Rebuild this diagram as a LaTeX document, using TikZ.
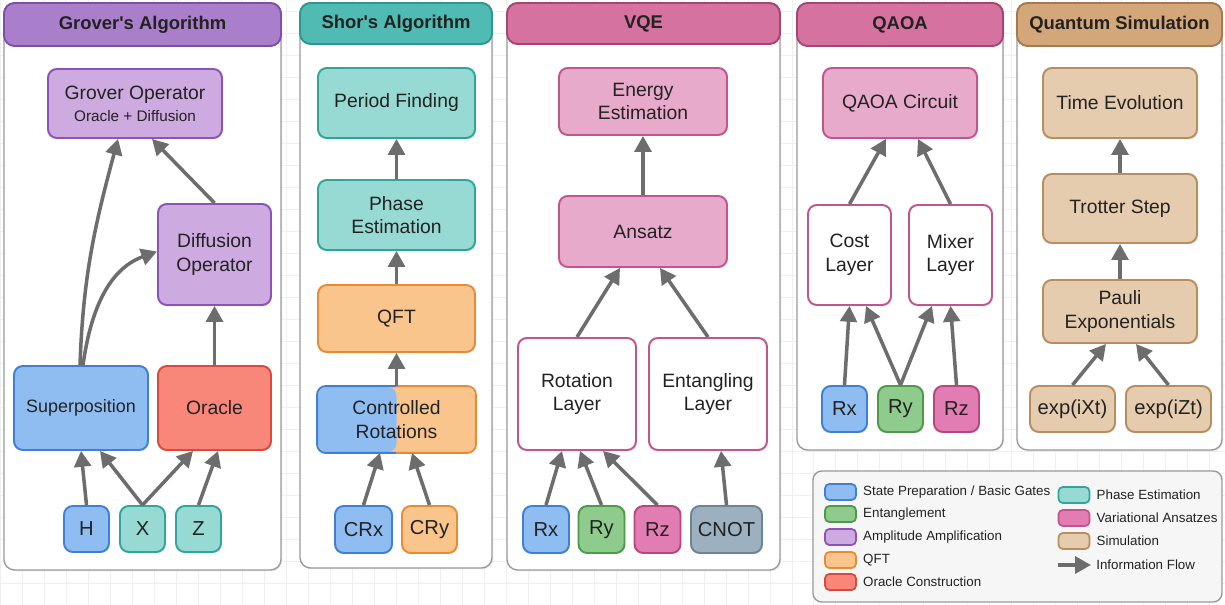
\documentclass[tikz,border=0pt]{standalone}
\usepackage{fontspec}
\setmainfont{Liberation Sans}
\usetikzlibrary{positioning}
\usetikzlibrary{arrows.meta}
\usetikzlibrary{shadows}

\definecolor{txt}{HTML}{222222}
\definecolor{arrowgray}{HTML}{6D6D6D}
\definecolor{panelgray}{HTML}{9A9A9A}
\definecolor{gridgray}{HTML}{EFEFEF}
\definecolor{blueF}{HTML}{8FBDF2}\definecolor{blueD}{HTML}{3F7FD6}
\definecolor{tealF}{HTML}{96DAD3}\definecolor{tealD}{HTML}{30A59B}
\definecolor{purpF}{HTML}{CDABE0}\definecolor{purpD}{HTML}{8C52B4}
\definecolor{oranF}{HTML}{F9C58D}\definecolor{oranD}{HTML}{E78C35}
\definecolor{redF}{HTML}{F8877A}\definecolor{redD}{HTML}{D94A3C}
\definecolor{greenF}{HTML}{8FCB8C}\definecolor{greenD}{HTML}{4C9A4A}
\definecolor{pinkF}{HTML}{E8AACA}\definecolor{pinkD}{HTML}{C4548C}
\definecolor{magF}{HTML}{E27DB3}\definecolor{magD}{HTML}{B8477F}
\definecolor{brownF}{HTML}{E6CCAE}\definecolor{brownD}{HTML}{B88E5E}
\definecolor{slateF}{HTML}{9DB0BF}\definecolor{slateD}{HTML}{6B8597}
\definecolor{hPurp}{HTML}{A97FCC}\definecolor{hPurpD}{HTML}{7D4FA8}
\definecolor{hTeal}{HTML}{4FBBB3}\definecolor{hTealD}{HTML}{2E9690}
\definecolor{hPink}{HTML}{D5729F}\definecolor{hPinkD}{HTML}{A8456F}
\definecolor{hBrown}{HTML}{D4A77A}\definecolor{hBrownD}{HTML}{A87A4A}
\definecolor{legF}{HTML}{F6F6F6}

\tikzset{
  panel/.style={draw=panelgray, fill=white, line width=0.8pt, rounded corners=6pt,
    drop shadow={opacity=0.12, shadow xshift=0.8pt, shadow yshift=-0.8pt}},
  header/.style 2 args={draw=#1, fill=#2, line width=1.1pt, rounded corners=6pt,
    inner sep=0pt, text=txt, font=\bfseries\fontsize{10.5}{12}\selectfont},
  blk/.style 2 args={draw=#1, fill=#2, line width=1.1pt, rounded corners=5pt,
    inner sep=0pt, align=center, text=txt, font=\fontsize{11}{13.5}\selectfont,
    drop shadow={opacity=0.12, shadow xshift=0.6pt, shadow yshift=-0.6pt}},
  gate/.style 2 args={blk={#1}{#2}, minimum width=0.9cm, minimum height=0.92cm,
    font=\fontsize{11.5}{13}\selectfont},
  flow/.style={-{Triangle[length=9pt,width=9.5pt]}, line width=2pt, draw=arrowgray},
  swatch/.style 2 args={draw=#1, fill=#2, line width=1pt, rounded corners=2.5pt,
    minimum width=0.62cm, minimum height=0.32cm, inner sep=0pt},
  legtext/.style={text=txt, font=\fontsize{7.6}{9}\selectfont, inner sep=0pt, anchor=west}
}

\begin{document}
\begin{tikzpicture}[x=0.02cm, y=0.02cm]
  \useasboundingbox (0,0) rectangle (1225,605);
  \fill[white] (0,0) rectangle (1225,605);
  \draw[gridgray, line width=0.4pt, step=0.44cm] (0,0) grid (1225,605);

  % panels
  \draw[panel] (4,35) rectangle (281,602);
  \draw[panel] (300,37) rectangle (492,602);
  \draw[panel] (507,35) rectangle (780,602);
  \draw[panel] (797,155) rectangle (1003,602);
  \draw[panel] (1017,155) rectangle (1222,602);

  \node[header={hPurpD}{hPurp}, minimum width=5.54cm, minimum height=0.86cm] (hgrover) at (142.5,580.5) {Grover\textquotesingle s Algorithm};
  \node[header={hTealD}{hTeal}, minimum width=3.84cm, minimum height=0.82cm] (hshor) at (396,581.5) {Shor\textquotesingle s Algorithm};
  \node[header={hPinkD}{hPink}, minimum width=5.46cm, minimum height=0.82cm] (hvqe) at (643.5,581.5) {VQE};
  \node[header={hPinkD}{hPink}, minimum width=4.12cm, minimum height=0.86cm] (hqaoa) at (900,580.5) {QAOA};
  \node[header={hBrownD}{hBrown}, minimum width=4.10cm, minimum height=0.86cm] (hsim) at (1119.5,580.5) {Quantum Simulation};

  % Grover
  \node[blk={purpD}{purpF}, minimum width=3.48cm, minimum height=1.38cm] (gop) at (135,501.5)
    {Grover Operator\\[-1pt]{\fontsize{8.7}{10}\selectfont Oracle + Diffusion}};
  \node[blk={purpD}{purpF}, minimum width=2.26cm, minimum height=2.02cm] (diff) at (214.5,350.5) {Diffusion\\Operator};
  \node[blk={blueD}{blueF}, minimum width=2.68cm, minimum height=1.68cm, font=\fontsize{10.2}{12}\selectfont] (sup) at (81,197) {Superposition};
  \node[blk={redD}{redF}, minimum width=2.26cm, minimum height=1.68cm] (orc) at (214.5,197) {Oracle};
  \node[gate={blueD}{blueF}] (gh) at (86.5,76) {H};
  \node[gate={tealD}{tealF}] (gx) at (142.5,76) {X};
  \node[gate={tealD}{tealF}] (gz) at (198.5,76) {Z};

  \draw[flow] (gh.north) -- (sup.south);
  \draw[flow] (gx.north) -- ([xshift=0.38cm]sup.south);
  \draw[flow] (gx.north) -- ([xshift=-0.43cm]orc.south);
  \draw[flow] (gz.north) -- ([xshift=0.07cm]orc.south);
  \draw[flow] (orc.north) -- (diff.south);
  \draw[flow] (diff.north) -- ([xshift=0.34cm]gop.south);
  \draw[flow] ([xshift=-0.02cm]sup.north) to[out=88, in=-105] ([xshift=-0.34cm]gop.south);
  \draw[flow] ([xshift=0.04cm]sup.north) to[out=82, in=200] ([yshift=0.06cm]diff.west);

  % Shor
  \node[blk={tealD}{tealF}, minimum width=3.14cm, minimum height=1.40cm] (per) at (396.5,502) {Period Finding};
  \node[blk={tealD}{tealF}, minimum width=3.14cm, minimum height=1.40cm] (pha) at (396.5,390) {Phase\\Estimation};
  \node[blk={oranD}{oranF}, minimum width=3.14cm, minimum height=1.34cm] (qft) at (396.5,286.5) {QFT};
  \node[blk={oranD}{oranF}, draw=none, minimum width=3.14cm, minimum height=1.30cm,
    path picture={\fill[blueF] (path picture bounding box.south west) rectangle (path picture bounding box.north);}]
    (crot) at (396.5,185.5) {Controlled\\Rotations};
  \begin{scope}
    \clip ([shift={(-3pt,-3pt)}]crot.south west) rectangle (crot.north |- 0,620);
    \draw[blueD, line width=1.1pt, rounded corners=5pt] (crot.south west) rectangle (crot.north east);
  \end{scope}
  \begin{scope}
    \clip ([shift={(3pt,-3pt)}]crot.south east) rectangle (crot.north |- 0,620);
    \draw[oranD, line width=1.1pt, rounded corners=5pt] (crot.south west) rectangle (crot.north east);
  \end{scope}
  \node[gate={blueD}{blueF}, minimum width=1.14cm, minimum height=0.94cm] (crx) at (363.5,75.5) {CRx};
  \node[gate={oranD}{oranF}, minimum width=1.10cm, minimum height=0.94cm] (cry) at (429.5,75.5) {CRy};

  \draw[flow] (crx.north) -- ([xshift=-0.33cm]crot.south);
  \draw[flow] (cry.north) -- ([xshift=0.31cm]crot.south);
  \draw[flow] (crot.north) -- (qft.south);
  \draw[flow] (qft.north) -- (pha.south);
  \draw[flow] (pha.north) -- (per.south);

  % VQE
  \node[blk={pinkD}{pinkF}, minimum width=3.36cm, minimum height=1.34cm] (ene) at (643,503.5) {Energy\\Estimation};
  \node[blk={pinkD}{pinkF}, minimum width=3.36cm, minimum height=1.42cm] (ans) at (643,373.5) {Ansatz};
  \node[blk={pinkD}{white}, minimum width=2.36cm, minimum height=2.24cm] (rot) at (577,211) {Rotation\\Layer};
  \node[blk={pinkD}{white}, minimum width=2.36cm, minimum height=2.24cm] (ent) at (708,211) {Entangling\\Layer};
  \node[gate={blueD}{blueF}, minimum width=0.92cm, minimum height=0.94cm] (vrx) at (546,75.5) {Rx};
  \node[gate={greenD}{greenF}, minimum width=0.92cm, minimum height=0.94cm] (vry) at (601.5,75.5) {Ry};
  \node[gate={magD}{magF}, minimum width=0.92cm, minimum height=0.94cm] (vrz) at (657.5,75.5) {Rz};
  \node[gate={slateD}{slateF}, minimum width=1.42cm, minimum height=0.94cm] (cnot) at (726.5,75.5) {CNOT};

  \draw[flow] (ans.north) -- (ene.south);
  \draw[flow] (rot.north) -- ([xshift=-0.46cm]ans.south);
  \draw[flow] (ent.north) -- ([xshift=0.34cm]ans.south);
  \draw[flow] (vrx.north) -- ([xshift=-0.3cm]rot.south);
  \draw[flow] (vry.north) -- ([xshift=0.06cm]rot.south);
  \draw[flow] (vrz.north) -- ([xshift=0.52cm]rot.south);
  \draw[flow] (cnot.north) -- ([xshift=0.26cm]ent.south);

  % QAOA
  \node[blk={pinkD}{pinkF}, minimum width=3.08cm, minimum height=1.40cm] (qc) at (900,502) {QAOA Circuit};
  \node[blk={pinkD}{white}, minimum width=1.66cm, minimum height=2.00cm] (cost) at (849.5,350) {Cost\\Layer};
  \node[blk={pinkD}{white}, minimum width=1.66cm, minimum height=2.00cm] (mix) at (950.5,350) {Mixer\\Layer};
  \node[gate={blueD}{blueF}] (qrx) at (844.5,196) {Rx};
  \node[gate={greenD}{greenF}] (qry) at (900.5,196) {Ry};
  \node[gate={magD}{magF}] (qrz) at (956.5,196) {Rz};

  \draw[flow] (cost.north) -- ([xshift=-0.28cm]qc.south);
  \draw[flow] (mix.north) -- ([xshift=0.36cm]qc.south);
  \draw[flow] (qrx.north) -- (cost.south);
  \draw[flow] (qry.north) -- ([xshift=0.33cm]cost.south);
  \draw[flow] (qry.north) -- ([xshift=-0.37cm]mix.south);
  \draw[flow] (qrz.north) -- (mix.south);

  % Quantum Simulation
  \node[blk={brownD}{brownF}, minimum width=3.08cm, minimum height=1.40cm] (tev) at (1120,502) {Time Evolution};
  \node[blk={brownD}{brownF}, minimum width=3.08cm, minimum height=1.38cm] (trot) at (1120,396.5) {Trotter Step};
  \node[blk={brownD}{brownF}, minimum width=3.08cm, minimum height=1.26cm] (pauli) at (1120,293.5) {Pauli\\Exponentials};
  \node[gate={brownD}{brownF}, minimum width=1.70cm] (ex) at (1072.5,196) {exp(iXt)};
  \node[gate={brownD}{brownF}, minimum width=1.70cm] (ez) at (1168.5,196) {exp(iZt)};

  \draw[flow] (ex.north) -- ([xshift=-0.28cm]pauli.south);
  \draw[flow] (ez.north) -- ([xshift=0.32cm]pauli.south);
  \draw[flow] (pauli.north) -- (trot.south);
  \draw[flow] (trot.north) -- (tev.south);

  % legend
  \draw[draw=panelgray, fill=legF, line width=0.8pt, rounded corners=5pt] (813,3) rectangle (1222,134);
  \node[swatch={blueD}{blueF}] (s1) at (840.5,113) {};
  \node[swatch={greenD}{greenF}] (s2) at (840.5,91) {};
  \node[swatch={purpD}{purpF}] (s3) at (840.5,68) {};
  \node[swatch={oranD}{oranF}] (s4) at (840.5,45) {};
  \node[swatch={redD}{redF}] (s5) at (840.5,23) {};
  \node[legtext, right=0.12cm of s1] (l1) {State Preparation / Basic Gates};
  \node[legtext, right=0.12cm of s2] (l2) {Entanglement};
  \node[legtext, right=0.12cm of s3] (l3) {Amplitude Amplification};
  \node[legtext, right=0.12cm of s4] (l4) {QFT};
  \node[legtext, right=0.12cm of s5] (l5) {Oracle Construction};
  \node[swatch={tealD}{tealF}] (s6) at (1074,110) {};
  \node[swatch={pinkD}{magF}] (s7) at (1074,87) {};
  \node[swatch={brownD}{brownF}] (s8) at (1074,64) {};
  \coordinate (la) at (1058,40);
  \coordinate (lb) at (1091,40);
  \draw[flow] (la) -- (lb);
  \node[legtext, right=0.12cm of s6] (l6) {Phase Estimation};
  \node[legtext, right=0.12cm of s7] (l7) {Variational Ansatzes};
  \node[legtext, right=0.12cm of s8] (l8) {Simulation};
  \node[legtext, right=0.1cm of lb] (l9) {Information Flow};
\end{tikzpicture}
\end{document}
